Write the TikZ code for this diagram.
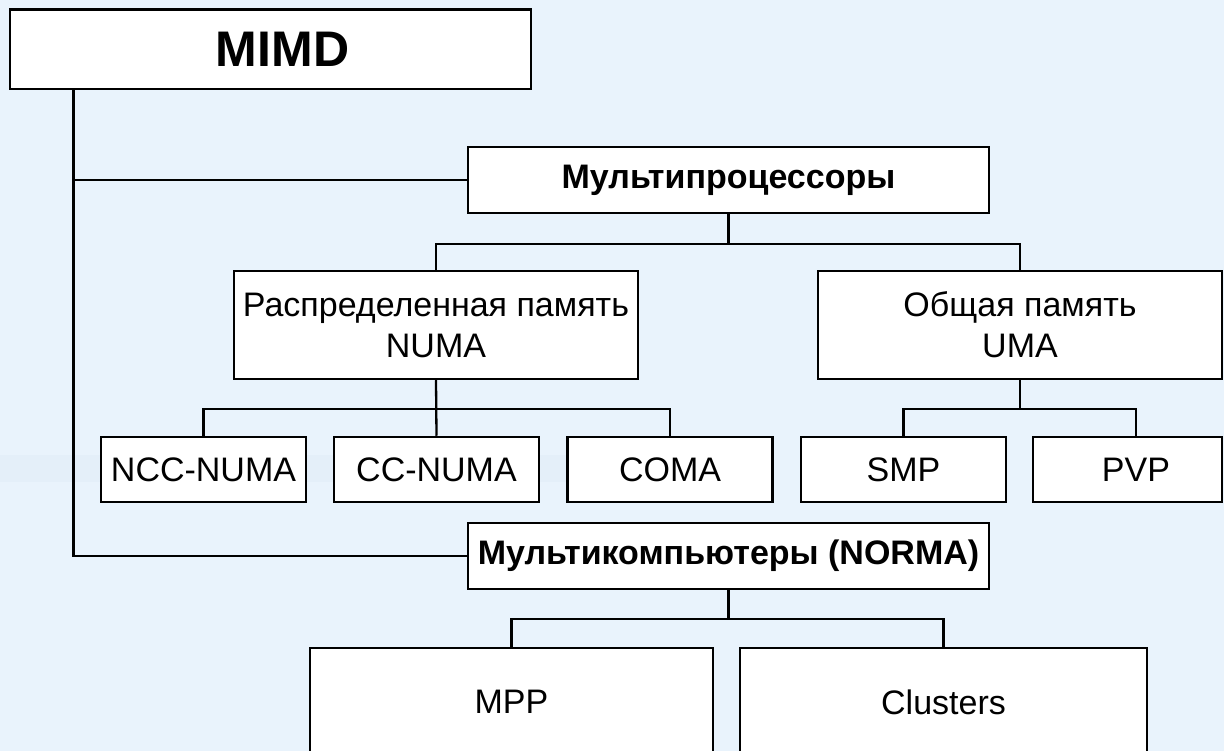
\documentclass[tikz,border=0pt]{standalone}
\usepackage{fontspec}
\setmainfont{Liberation Sans}
\definecolor{bgblue}{RGB}{233,243,252}
\definecolor{bgband}{RGB}{224,236,248}
\tikzset{
  box/.style={draw=black, line width=2.5pt, fill=white, inner sep=0pt, align=center,
              font=\fontsize{34}{41}\selectfont},
  boldbox/.style={box, font=\fontsize{34}{41}\selectfont\bfseries},
  leaf/.style={box, minimum width=205pt, minimum height=65pt},
  conn/.style={draw=black, line width=2.3pt},
}
\begin{document}
\begin{tikzpicture}[x=1pt,y=-1pt]
\fill[bgblue] (0,0) rectangle (1224,751);
\fill[bgband, opacity=0.5] (0,455) rectangle (700,482);
\useasboundingbox (0,0) rectangle (1224,751);

\node[box, minimum width=521pt, minimum height=79.5pt,
      font=\fontsize{50}{60}\selectfont\bfseries] (mimd) at (270.5,49.25)
      {\hspace*{24pt}\raisebox{-8pt}{MIMD}};

\node[boldbox, minimum width=521pt, minimum height=66pt] (mp) at (728.5,180) {Мультипроцессоры};

\node[box, minimum width=404pt, minimum height=108pt] (dist) at (436,325)
  {Распределенная память\\NUMA};
\node[box, minimum width=404pt, minimum height=108pt] (shared) at (1020,325)
  {Общая память\\UMA};

\node[leaf] (ncc) at (203.5,469.5) {NCC-NUMA};
\node[leaf] (cc) at (436.5,469.5) {CC-NUMA};
\node[leaf] (coma) at (670,469.5) {COMA};
\node[leaf] (smp) at (903.5,469.5) {SMP};
\node[box, minimum width=189pt, minimum height=65pt] (pvp) at (1127.5,469.5) {};
\node[font=\fontsize{34}{41}\selectfont, inner sep=0pt] (pvptext) at (1136,469.5) {PVP};

\node[boldbox, minimum width=521pt, minimum height=66pt] (mk) at (728.5,556) {Мультикомпьютеры (NORMA)};

\node[box, minimum width=403pt, minimum height=108pt] (mpp) at (511.5,702) {MPP};
\node[box, minimum width=407pt, minimum height=108pt] (clu) at (943.5,702) {Clusters};

% trunk
\draw[conn] ([xshift=-197pt]mimd.south) |- (mp.west);
\draw[conn] ([xshift=-197pt]mimd.south) |- (mk.west);

% multiprocessors
\draw[conn] (mp.south) -- ++(0,30) -| (dist.north);
\draw[conn] (mp.south) -- ++(0,30) -| (shared.north);

% NUMA
\draw[conn] (dist.south) -- ++(0,29) -| (ncc.north);
\draw[conn] (dist.south) -- (cc.north);
\draw[conn] (dist.south) -- ++(0,29) -| (coma.north);

% UMA
\draw[conn] (shared.south) -- ++(0,29) -| (smp.north);
\draw[conn] (shared.south) -- ++(0,29) -| ([xshift=8.5pt]pvp.north);

% multicomputers
\draw[conn] (mk.south) -- ++(0,29) -| (mpp.north);
\draw[conn] (mk.south) -- ++(0,29) -| (clu.north);
\end{tikzpicture}
\end{document}
